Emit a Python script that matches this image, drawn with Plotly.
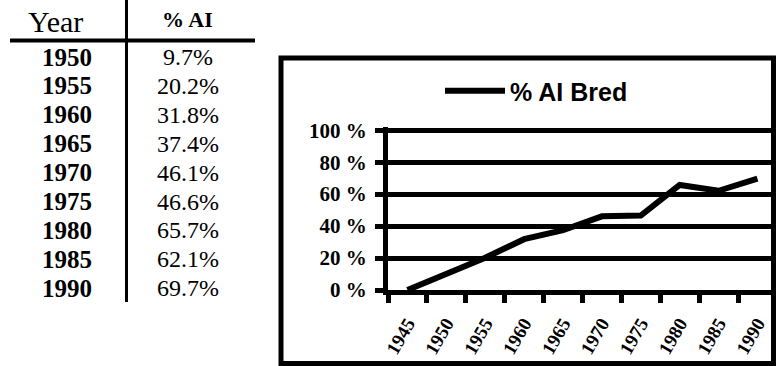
import plotly.graph_objects as go

# ---- data ----
table_years = ["1950", "1955", "1960", "1965", "1970", "1975", "1980", "1985", "1990"]
table_values = ["9.7%", "20.2%", "31.8%", "37.4%", "46.1%", "46.6%", "65.7%", "62.1%", "69.7%"]

chart_years = ["1945", "1950", "1955", "1960", "1965", "1970", "1975", "1980", "1985", "1990"]
ai_bred_pct = [0.0, 9.7, 20.2, 31.8, 37.4, 46.1, 46.6, 65.7, 62.1, 69.7]
series_name = "% AI Bred"

y_tick_vals = [0, 20, 40, 60, 80, 100]
y_tick_text = ["0 %", "20 %", "40 %", "60 %", "80 %", "100 %"]

# ---- geometry (pixels) ----
FW, FH = 776, 366
ML, MR, MT, MB = 388, 3, 127, 76
PW, PH = FW - ML - MR, FH - MT - MB


def px(x):
    return (x - ML) / PW


def py(y):
    return (FH - MB - y) / PH


SERIF = "Liberation Serif, Times New Roman, serif"
SANS = "Liberation Sans, Arial, sans-serif"

fig = go.Figure()
fig.add_trace(go.Scatter(
    x=chart_years, y=ai_bred_pct, mode="lines", name=series_name,
    line=dict(color="black", width=6), showlegend=True,
))

shapes = [
    # chart outer box
    dict(type="rect", xref="paper", yref="paper", x0=px(281), x1=px(773.5), y0=py(363.5), y1=py(58),
         line=dict(color="black", width=5), layer="above"),
    # table lines
    dict(type="line", xref="paper", yref="paper", x0=px(126.5), x1=px(126.5), y0=py(0), y1=py(302),
         line=dict(color="black", width=3)),
    dict(type="line", xref="paper", yref="paper", x0=px(10), x1=px(255), y0=py(40.5), y1=py(40.5),
         line=dict(color="black", width=4)),
]

annotations = [
    dict(text="Year", x=px(55), y=py(22), xref="paper", yref="paper", showarrow=False,
         xanchor="center", yanchor="middle", font=dict(family=SERIF, size=30, color="black")),
    dict(text="% AI", x=px(187), y=py(19), xref="paper", yref="paper", showarrow=False,
         xanchor="center", yanchor="middle", font=dict(family=SERIF, size=22, color="black", weight="bold")),
]
row0, row_step = 57, 28.9
for i, (yr, val) in enumerate(zip(table_years, table_values)):
    yy = row0 + i * row_step
    annotations.append(dict(text=yr, x=px(67), y=py(yy), xref="paper", yref="paper", showarrow=False,
                            xanchor="center", yanchor="middle",
                            font=dict(family=SERIF, size=25, color="black", weight="bold")))
    annotations.append(dict(text=val, x=px(188), y=py(yy), xref="paper", yref="paper", showarrow=False,
                            xanchor="center", yanchor="middle",
                            font=dict(family=SERIF, size=24, color="black")))

fig.update_layout(
    width=FW, height=FH,
    margin=dict(l=ML, r=MR, t=MT, b=MB, pad=0),
    paper_bgcolor="white", plot_bgcolor="white",
    shapes=shapes, annotations=annotations,
    showlegend=True,
    legend=dict(
        x=px(440), y=py(91), xanchor="left", yanchor="middle", xref="paper", yref="paper",
        orientation="h", itemwidth=60, bgcolor="rgba(0,0,0,0)", borderwidth=0,
        font=dict(family=SANS, size=25, color="black", weight="bold"),
    ),
    xaxis=dict(
        type="category", range=[-0.5, 9.4], tickson="boundaries",
        showline=True, linecolor="black", linewidth=5,
        ticks="outside", ticklen=8, tickwidth=5, tickcolor="black",
        tickangle=-60, showgrid=False, zeroline=False,
        ticklabelstandoff=10,
        tickfont=dict(family=SERIF, size=19, color="black", weight="bold"),
        fixedrange=True,
    ),
    yaxis=dict(
        range=[0, 102], tickvals=y_tick_vals, ticktext=y_tick_text,
        showline=True, linecolor="black", linewidth=5,
        ticks="outside", ticklen=8, tickwidth=5, tickcolor="black",
        showgrid=True, gridcolor="black", gridwidth=5, zeroline=False,
        ticklabelstandoff=4,
        tickfont=dict(family=SERIF, size=21, color="black", weight="bold"),
        fixedrange=True,
    ),
)

fig.write_html("out.html", config={"displayModeBar": False},
               post_script="document.body.style.margin='0px';")
